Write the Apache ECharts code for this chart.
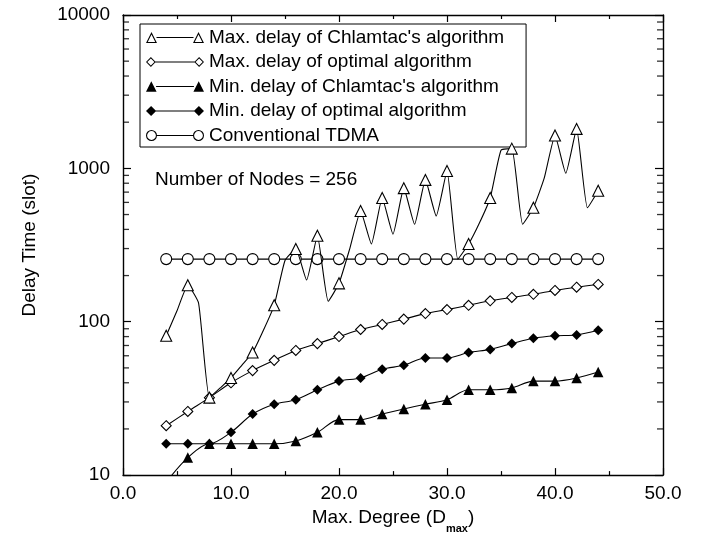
<!DOCTYPE html>
<html>
<head>
<meta charset="utf-8">
<script src="https://cdn.jsdelivr.net/npm/echarts@6/dist/echarts.min.js"></script>
<style>
html,body{margin:0;padding:0;background:#fff;}
#chart{width:703px;height:539px;}
</style>
</head>
<body>
<div id="chart"></div>
<script>
// ---- data ----
const degrees = [4,6,8,10,12,14,16,18,20,22,24,26,28,30,32,34,36,38,40,42,44];
const degreesAll = [4,5,6,7,8,9,10,11,12,13,14,15,16,17,18,19,20,21,22,23,24,25,26,27,28,29,30,31,32,33,34,35,36,37,38,39,40,41,42,43,44];
const maxDelayChlamtac = [81,118,173,132,32,37,43,52,63,88,128,251,298,187,364,136,178,300,527,321,641,372,743,432,841,489,961,256,321,440,641,1312,1345,432,553,863,1638,929,1808,553,715];
const maxDelayOptimal = [21,26,32,40,48,56,65,72,80,89,96,104,113,120,128,137,144,151,160,168,175];
const minDelayChlamtac = [9,13,16,16,16,16,16.7,19,23,23,25,27,29,31,36,36,37,41,41,43,47];
const minDelayOptimal = [16,16,16,19,25,29,31,36,41,43,49,52,58,58,63,66,72,78,81,82,88];
const conventionalTDMA = [256,256,256,256,256,256,256,256,256,256,256,256,256,256,256,256,256,256,256,256,256];
const seriesNames = [
  "Max. delay of Chlamtac's algorithm",
  "Max. delay of optimal algorithm",
  "Min. delay of Chlamtac's algorithm",
  "Min. delay of optimal algorithm",
  "Conventional TDMA"
];
const xRange = [0, 50];
const yMinorTicks = [20,30,40,50,60,70,80,90,200,300,400,500,600,700,800,900,2000,3000,4000,5000,6000,7000,8000,9000];
const annotation = "Number of Nodes = 256";

// ---- styling helpers ----
const FONT = '"Liberation Sans", Arial, Helvetica, sans-serif';
const FS = 19;

function rectLine(x1, x2, cy) {
  return 'M' + x1 + ' ' + (cy - 0.55) + 'L' + x2 + ' ' + (cy - 0.55) + 'L' + x2 + ' ' + (cy + 0.55) + 'L' + x1 + ' ' + (cy + 0.55) + 'Z';
}
function triPath(cx, s, hollow) {
  const h = s / 2;
  let p = 'M' + (cx - h) + ' ' + s + 'L' + cx + ' 0L' + (cx + h) + ' ' + s + 'Z';
  if (hollow) {
    const k = 0.68, icy = s * 0.69;
    const pts = [[cx - h, s], [cx, 0], [cx + h, s]].map(function (q) { return [cx + (q[0] - cx) * k, icy + (q[1] - icy) * k]; });
    p += 'M' + pts[2][0] + ' ' + pts[2][1] + 'L' + pts[1][0] + ' ' + pts[1][1] + 'L' + pts[0][0] + ' ' + pts[0][1] + 'Z';
  }
  return p;
}
function diaPath(cx, s, hollow) {
  const h = s / 2;
  let p = 'M' + (cx - h) + ' ' + h + 'L' + cx + ' 0L' + (cx + h) + ' ' + h + 'L' + cx + ' ' + s + 'Z';
  if (hollow) {
    const g = h - 1.3;
    p += 'M' + (cx - g) + ' ' + h + 'L' + cx + ' ' + (h + g) + 'L' + (cx + g) + ' ' + h + 'L' + cx + ' ' + (h - g) + 'Z';
  }
  return p;
}
function circPath(cx, s) {
  const r = s / 2, ri = r - 1.1, cy = r;
  return 'M' + (cx + r) + ' ' + cy + 'A' + r + ' ' + r + ' 0 1 1 ' + (cx - r) + ' ' + cy + 'A' + r + ' ' + r + ' 0 1 1 ' + (cx + r) + ' ' + cy + 'Z' +
         'M' + (cx + ri) + ' ' + cy + 'A' + ri + ' ' + ri + ' 0 1 0 ' + (cx - ri) + ' ' + cy + 'A' + ri + ' ' + ri + ' 0 1 0 ' + (cx + ri) + ' ' + cy + 'Z';
}
function legendIcon(kind, s, hollow) {
  const d = 47, c1 = s / 2, c2 = s / 2 + d;
  let m;
  if (kind === 'tri') m = triPath(c1, s, hollow) + triPath(c2, s, hollow);
  else if (kind === 'dia') m = diaPath(c1, s, hollow) + diaPath(c2, s, hollow);
  else m = circPath(c1, s) + circPath(c2, s);
  return 'path://' + m + rectLine(c1 + s / 2 - 0.5, c2 - s / 2 + 0.5, s / 2);
}

const hollowStyle = { color: '#fff', borderColor: '#000', borderWidth: 1.1 };
const filledStyle = { color: '#000', borderColor: '#000', borderWidth: 0 };
const lineStyle = { color: '#000', width: 1.1 };

function pairs(xs, ys) { return xs.map(function (x, i) { return [x, ys[i]]; }); }

const maxChlData = degreesAll.map(function (x, i) {
  const item = { value: [x, maxDelayChlamtac[i]] };
  if (x % 2 === 1) item.symbol = 'none';
  return item;
});

const axisCommon = {
  axisLine: { show: true, onZero: false, lineStyle: { color: '#000', width: 1.4 } },
  splitLine: { show: false }
};

function minorTickSeries(xVal, offset) {
  return {
    type: 'scatter', silent: true, clip: false, z: 1,
    data: yMinorTicks.map(function (v) { return [xVal, v]; }),
    symbol: 'rect', symbolSize: [6, 1.3], symbolOffset: [offset, 0],
    itemStyle: { color: '#000' }
  };
}

const option = {
  animation: false,
  backgroundColor: '#fff',
  textStyle: { fontFamily: FONT, color: '#000' },
  grid: { left: 123, right: 40, top: 15, bottom: 58, containLabel: false },
  xAxis: [
    Object.assign({}, axisCommon, {
      type: 'value', position: 'bottom', min: xRange[0], max: xRange[1], interval: 10,
      name: '{a|Max. Degree (D}{s|max}{a|)}', nameLocation: 'middle', nameGap: 28,
      nameTextStyle: { rich: {
        a: { fontSize: FS, fontFamily: FONT, color: '#000', lineHeight: 26, verticalAlign: 'top' },
        s: { fontSize: 11, fontFamily: FONT, fontWeight: 'bold', color: '#000', lineHeight: 12, verticalAlign: 'bottom' }
      } },
      axisTick: { show: true, inside: true, length: 7, lineStyle: { color: '#000', width: 1.2 } },
      minorTick: { show: true, splitNumber: 2, length: 4, lineStyle: { color: '#000', width: 1.2 } },
      axisLabel: { fontSize: FS, fontFamily: FONT, color: '#000', margin: 9, formatter: function (v) { return v.toFixed(1); } }
    }),
    Object.assign({}, axisCommon, {
      type: 'value', position: 'top', min: xRange[0], max: xRange[1], interval: 10,
      axisTick: { show: true, inside: true, length: 7, lineStyle: { color: '#000', width: 1.2 } },
      minorTick: { show: true, splitNumber: 2, length: 4, lineStyle: { color: '#000', width: 1.2 } },
      axisLabel: { show: false }
    })
  ],
  yAxis: [
    Object.assign({}, axisCommon, {
      type: 'log', logBase: 10, position: 'left', min: 10, max: 10000,
      name: 'Delay Time (slot)', nameLocation: 'middle', nameGap: 84,
      nameTextStyle: { fontSize: FS, fontFamily: FONT, color: '#000' },
      axisTick: { show: true, inside: true, length: 8, lineStyle: { color: '#000', width: 1.2 } },
      axisLabel: { fontSize: FS, fontFamily: FONT, color: '#000', margin: 13, formatter: function (v) { return String(Math.round(v)); } }
    }),
    Object.assign({}, axisCommon, {
      type: 'log', logBase: 10, position: 'right', min: 10, max: 10000,
      axisTick: { show: true, inside: true, length: 8, lineStyle: { color: '#000', width: 1.2 } },
      axisLabel: { show: false }
    })
  ],
  legend: {
    orient: 'vertical', left: 140, top: 24,
    selectedMode: false,
    backgroundColor: '#fff', borderColor: '#000', borderWidth: 1,
    padding: [4, 22, 2, 6],
    itemGap: 5.5, itemWidth: 58, itemHeight: 11,
    textStyle: { fontSize: FS, fontFamily: FONT, color: '#000' },
    data: [
      { name: seriesNames[0], icon: legendIcon('tri', 11, true), itemStyle: { color: '#000', borderWidth: 0 } },
      { name: seriesNames[1], icon: legendIcon('dia', 9.5, true), itemStyle: { color: '#000', borderWidth: 0 } },
      { name: seriesNames[2], icon: legendIcon('tri', 10.5, false), itemStyle: { color: '#000', borderWidth: 0 } },
      { name: seriesNames[3], icon: legendIcon('dia', 10, false), itemStyle: { color: '#000', borderWidth: 0 } },
      { name: seriesNames[4], icon: legendIcon('circ', 11, true), itemStyle: { color: '#000', borderWidth: 0 } }
    ]
  },
  graphic: [
    { type: 'text', left: 155, top: 170, style: { text: annotation, font: FS + 'px ' + FONT, fill: '#000' } }
  ],
  series: [
    minorTickSeries(xRange[0], 3),
    minorTickSeries(xRange[1], -3),
    { name: seriesNames[4], type: 'line', data: pairs(degrees, conventionalTDMA), symbol: 'circle', symbolSize: 11,
      itemStyle: hollowStyle, lineStyle: lineStyle, clip: true, z: 2 },
    { name: seriesNames[3], type: 'line', data: pairs(degrees, minDelayOptimal), symbol: 'diamond', symbolSize: 10, smooth: 0.3,
      itemStyle: filledStyle, lineStyle: lineStyle, clip: true, z: 3 },
    { name: seriesNames[2], type: 'line', data: pairs(degrees, minDelayChlamtac), symbol: 'triangle', symbolSize: 10.5, smooth: 0.3,
      itemStyle: filledStyle, lineStyle: lineStyle, clip: true, z: 4 },
    { name: seriesNames[1], type: 'line', data: pairs(degrees, maxDelayOptimal), symbol: 'diamond', symbolSize: 10, smooth: 0.3,
      itemStyle: hollowStyle, lineStyle: lineStyle, clip: true, z: 5 },
    { name: seriesNames[0], type: 'line', data: maxChlData, symbol: 'triangle', symbolSize: 11, smooth: 0.15,
      itemStyle: hollowStyle, lineStyle: lineStyle, clip: true, z: 6 }
  ]
};

const chart = echarts.init(document.getElementById('chart'), null, { renderer: 'canvas' });
chart.setOption(option);
</script>
</body>
</html>
